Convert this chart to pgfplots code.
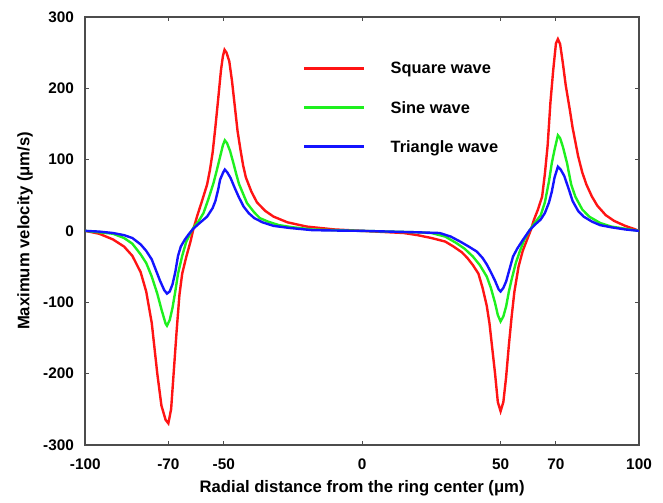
\documentclass[border=0pt]{standalone}
\usepackage{fontspec}
\setmainfont{Liberation Sans}
\usepackage{pgfplots}
\pgfplotsset{compat=1.18}
\definecolor{cred}{RGB}{255,20,20}
\definecolor{cgreen}{RGB}{30,240,30}
\definecolor{cblue}{RGB}{20,20,255}
\begin{document}
\begin{tikzpicture}
\begin{axis}[
  name=ax,
  scale only axis,
  width=415.5pt, height=321pt,
  xmin=-100, xmax=100, ymin=-300, ymax=300,
  xtick={-100,-70,-50,0,50,70,100},
  ytick={-300,-200,-100,0,100,200,300},
  tick align=inside,
  major tick length=3pt,
  every tick/.style={black!70, line width=0.8pt},
  axis line style={black!70, line width=1.2pt},
  /pgf/number format/assume math mode=true,
  ticklabel style={font=\bfseries\fontsize{11.5}{13}\selectfont},
  xticklabel style={yshift=-7pt},
  yticklabel style={xshift=-5pt},
  xlabel={Radial distance from the ring center (μm)},
  ylabel={Maximum velocity (μm/s)},
  label style={font=\bfseries\fontsize{12.5}{14}\selectfont},
  xlabel style={yshift=-1pt},
  ylabel style={yshift=1pt},
  legend style={draw=none, fill=none, at={(axis cs:-23,244)}, anchor=north west,
    font=\bfseries\fontsize{12.3}{14}\selectfont, row sep=16.5pt, column sep=17pt,
    nodes={inner sep=2pt, text depth=0pt}},
  legend cell align=left,
  legend image code/.code={\draw[#1, line width=2pt] (0pt,0pt) -- (45pt,0pt);},
  every axis plot/.append style={line width=1.8pt},
]
\addplot[cred] coordinates {
(-100,0) (-95,-4) (-90,-12) (-86,-22) (-83,-35) (-80,-58) (-78,-85) (-76,-129) (-74,-200) (-72.5,-245) (-71,-265) (-70,-270) (-69,-250) (-68,-195) (-67,-140) (-66,-90) (-65,-60) (-63.5,-36) (-62,-15) (-61,2) (-59.5,22) (-58,40) (-56,65) (-55,85) (-54,110) (-53,146) (-52,185) (-51,225) (-50.3,245) (-49.7,254) (-49,250) (-48,238) (-47,210) (-46,175) (-45,140) (-44,115) (-43,92) (-42,75) (-40,55) (-38,40) (-35,28) (-32,20) (-27,12) (-20,6) (-15,4) (-10,2) (-5,1) (0,0)
(5,-1) (10,-2) (15,-3) (20,-6) (25,-10) (30,-15) (33,-22) (36,-30) (38,-38) (40,-48) (42,-60) (43.5,-80) (45,-105) (46,-130) (47,-165) (48,-200) (49,-240) (50,-253) (51,-240) (52,-205) (53,-160) (54,-120) (55,-85) (56.5,-50) (58,-28) (60,-8) (61,2) (62,15) (63.5,30) (65,48) (66,80) (67,120) (68,180) (69,225) (70,263) (70.7,269) (71.5,262) (72.5,235) (73.5,205) (75,170) (76,145) (77,125) (78,105) (79.5,82) (81,65) (83,48) (85,35) (88,22) (91,14) (95,7) (98,3) (100,0)
};
\addlegendentry{Square wave}
\addplot[cgreen] coordinates {
(-100,0) (-95,-2) (-90,-4) (-86,-10) (-83,-18) (-80,-33) (-78,-45) (-76,-64) (-74,-88) (-72.5,-110) (-71,-130) (-70.5,-133) (-69.5,-125) (-68.5,-108) (-67.5,-85) (-66.5,-60) (-65,-35) (-63.5,-15) (-62,-3) (-61,4) (-59,14) (-57.3,25) (-55.5,45) (-53.7,67) (-52.5,85) (-51.3,104) (-50.3,120) (-49.6,127) (-48.8,123) (-47.7,112) (-46.5,95) (-45.5,80) (-44.5,66) (-43,52) (-41.6,39) (-39,26) (-37,18) (-34,13) (-30,8) (-25,5) (-18,2) (-10,1) (0,0)
(10,-1) (20,-2) (25,-3) (30,-8) (34,-17) (37,-25) (40,-36) (42.5,-48) (45,-64) (46.5,-80) (48,-101) (49,-118) (50,-127) (51,-120) (52,-106) (53,-85) (54,-68) (55.5,-45) (57,-28) (58.5,-13) (60.5,1) (62.5,12) (64.5,22) (66,40) (67.5,70) (68.5,95) (69.5,114) (70.7,134) (71.5,130) (72.5,118) (74,95) (75.5,65) (77,48) (79.5,30) (82,20) (86,11) (90,6) (95,3) (100,0)
};
\addlegendentry{Sine wave}
\addplot[cblue] coordinates {
(-100,0) (-95,-1) (-90,-3) (-86,-6) (-83,-10) (-80,-19) (-78,-28) (-76,-40) (-74.5,-55) (-73,-70) (-71.5,-83) (-70.5,-88) (-69.5,-85) (-68.5,-75) (-67.5,-58) (-66.5,-35) (-65.5,-22) (-64,-12) (-62.5,-4) (-61,3) (-59,10) (-56,20) (-54,32) (-53,42) (-52,58) (-51.3,72) (-50.2,82) (-49.6,86) (-48.7,82) (-47.5,74) (-46,60) (-44.5,47) (-42.8,34) (-41,25) (-39,18) (-36,12) (-32,7) (-26,4) (-18,1) (-10,0.5) (0,0)
(10,-1) (20,-2) (28,-3) (32,-8) (35.4,-15) (38.5,-22) (41.4,-29) (43.5,-38) (45,-47) (46.5,-58) (48,-70) (49.3,-82) (50,-85) (51,-80) (52,-71) (53.5,-50) (54.5,-36) (56,-25) (58,-13) (60.5,1) (62.5,9) (64.5,16) (66,25) (67.5,40) (68.5,55) (69.5,75) (70.7,90) (71.7,86) (73,77) (74.5,60) (76,42) (78,28) (80,20) (83,13) (86,8) (90,5) (95,2) (100,0)
};
\addlegendentry{Triangle wave}
\end{axis}
\pgfresetboundingbox
\path ([shift={(-64pt,-43.5pt)}]ax.south west) rectangle ([shift={(18pt,12.75pt)}]ax.north east);
\end{tikzpicture}
\end{document}
